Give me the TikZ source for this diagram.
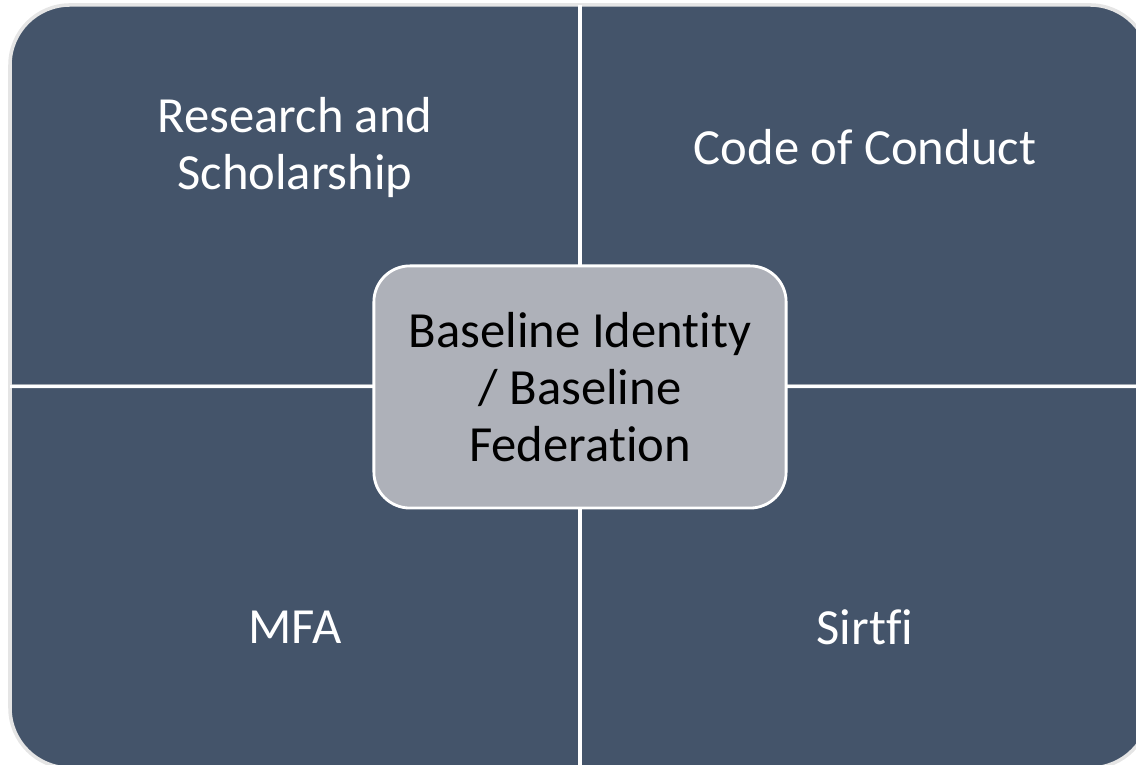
\documentclass[tikz,border=0pt]{standalone}
\usepackage{fontspec}
\setmainfont[RawFeature={-liga}]{Carlito}
\definecolor{slate}{HTML}{44546A}
\definecolor{core}{HTML}{AEB1B9}
\tikzset{
  quadlabel/.style={text=white, align=center, font=\fontsize{14.4}{16.2}\selectfont},
  corebox/.style={fill=core, draw=white, line width=0.8pt, rounded corners=0.36cm,
    minimum width=4.12cm, minimum height=2.42cm, align=center,
    font=\fontsize{14.4}{16.2}\selectfont}
}
\begin{document}
\begin{tikzpicture}[x=0.01cm, y=0.01cm]
    \useasboundingbox (0,0) rectangle (1136,765);

    % four quadrants, each with its outer corner rounded
    \foreach \sx/\sy in {1/1, -1/1, 1/-1, -1/-1} {
      \begin{scope}[shift={(580,378.5)}, xscale=\sx, yscale=\sy]
        \filldraw[fill=slate, draw=black!10, line width=1pt]
          (0,0) -- (-570,0) -- (-570,321.5)
          arc[start angle=180, end angle=90, radius=60] -- (0,381.5) -- cycle;
      \end{scope}
    }
    \draw[white, line width=0.9pt] (580,760) -- (580,-3);
    \draw[white, line width=0.9pt] (10,378.5) -- (1150,378.5);

    \node[quadlabel] (research) at (295,617) {Research and\\Scholarship};
    \node[quadlabel] (conduct) at (865,618) {Code of Conduct};
    \node[quadlabel] (mfa) at (295,138) {MFA};
    \node[quadlabel] (sirtfi) at (865,138) {Sirtfi};

    \node[corebox] (baseline) at (580,378) {Baseline Identity\\/ Baseline\\Federation};
  \end{tikzpicture}
\end{document}
